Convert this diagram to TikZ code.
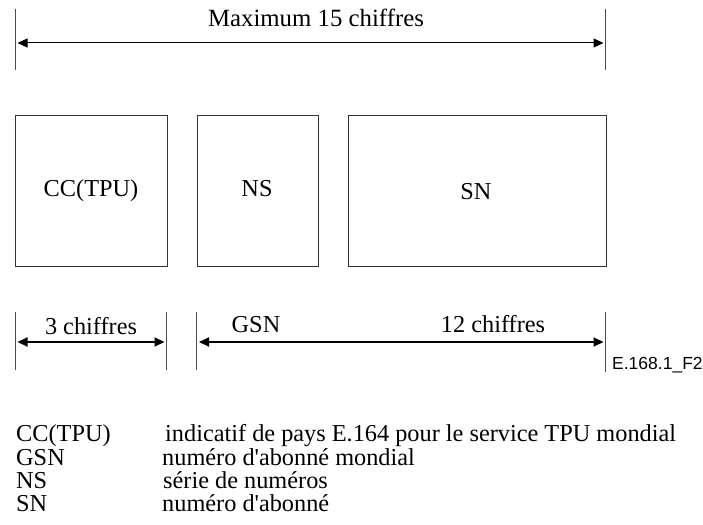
\documentclass[tikz,border=0pt]{standalone}
\usepackage{fontspec}
\setmainfont{Liberation Serif}
\newfontfamily\figid{Liberation Sans}
\usetikzlibrary{arrows.meta}
\begin{document}
\begin{tikzpicture}[x=1pt,y=-1pt,
  field/.style={draw=black!80,line width=0.9pt,inner sep=0pt,anchor=north west,font=\fontsize{24.3}{24.3}\selectfont},
  lbl/.style={inner sep=0pt,anchor=base,font=\fontsize{24.3}{24.3}\selectfont},
  legabbr/.style={inner sep=0pt,anchor=base west,font=\fontsize{24.3}{24.3}\selectfont},
  tick/.style={draw=black!70,line width=0.9pt},
  dimtop/.style={draw=black,line width=1pt,{Triangle[length=10pt,width=9pt]}-{Triangle[length=10pt,width=9pt]}},
  dimbot/.style={draw=black,line width=1.8pt,{Triangle[length=10pt,width=9pt]}-{Triangle[length=10pt,width=9pt]}}]
\useasboundingbox[fill=white] (0,0) rectangle (703,524);

% top dimension
\coordinate (t1a) at (15.3,9);  \coordinate (t1b) at (15.3,70);
\coordinate (t2a) at (605.7,9); \coordinate (t2b) at (605.7,70);
\draw[tick] (t1a) -- (t1b);
\draw[tick] (t2a) -- (t2b);
\coordinate (ta) at (17.5,43);
\coordinate (tb) at (603.5,43);
\draw[dimtop] (ta) -- (tb);
\node[lbl,font=\fontsize{24.8}{24.8}\selectfont] (max) at (316,26.7) {Maximum 15 chiffres};

% boxes
\node[field,minimum width=151.5pt,minimum height=151pt] (cc) at (15.3,115) {};
\node[field,minimum width=121.5pt,minimum height=151pt] (ns) at (196.7,115) {};
\node[field,minimum width=257.4pt,minimum height=151pt] (sn) at (348.3,115) {};
\node[lbl] (cct) at (91,196.7) {CC(TPU)};
\node[lbl] (nst) at (257,196.7) {NS};
\node[lbl] (snt) at (476,199) {SN};

% bottom dimensions
\coordinate (b1a) at (15.3,312);  \coordinate (b1b) at (15.3,370);
\coordinate (b2a) at (166.7,312); \coordinate (b2b) at (166.7,370);
\coordinate (b3a) at (196.7,312); \coordinate (b3b) at (196.7,370);
\coordinate (b4a) at (605.7,312); \coordinate (b4b) at (605.7,372);
\draw[tick] (b1a) -- (b1b);
\draw[tick] (b2a) -- (b2b);
\draw[tick] (b3a) -- (b3b);
\draw[tick] (b4a) -- (b4b);
\coordinate (l1) at (17.5,342); \coordinate (l2) at (164.5,342);
\coordinate (r1) at (199,342);  \coordinate (r2) at (603.5,342);
\draw[dimbot] (l1) -- (l2);
\draw[dimbot] (r1) -- (r2);
\node[lbl] (three) at (91,334) {3 chiffres};
\node[lbl] (gsn) at (256,332) {GSN};
\node[lbl] (twelve) at (493,332) {12 chiffres};
\node[inner sep=0pt,anchor=base west,font=\figid\fontsize{17.5}{17.5}\selectfont] (fid) at (612,369) {E.168.1\_F2};

% legend
\node[legabbr] (k1) at (16,441) {CC(TPU)};
\node[legabbr] (k2) at (16,465) {GSN};
\node[legabbr] (k3) at (16,488) {NS};
\node[legabbr] (k4) at (16,511.5) {SN};
\node[legabbr] (d1) at (165,441) {indicatif de pays E.164 pour le service TPU mondial};
\node[legabbr] (d2) at (162,465) {numéro d\textquotesingle abonné mondial};
\node[legabbr] (d3) at (163,488) {série de numéros};
\node[legabbr] (d4) at (162,511.5) {numéro d\textquotesingle abonné};
\end{tikzpicture}
\end{document}
